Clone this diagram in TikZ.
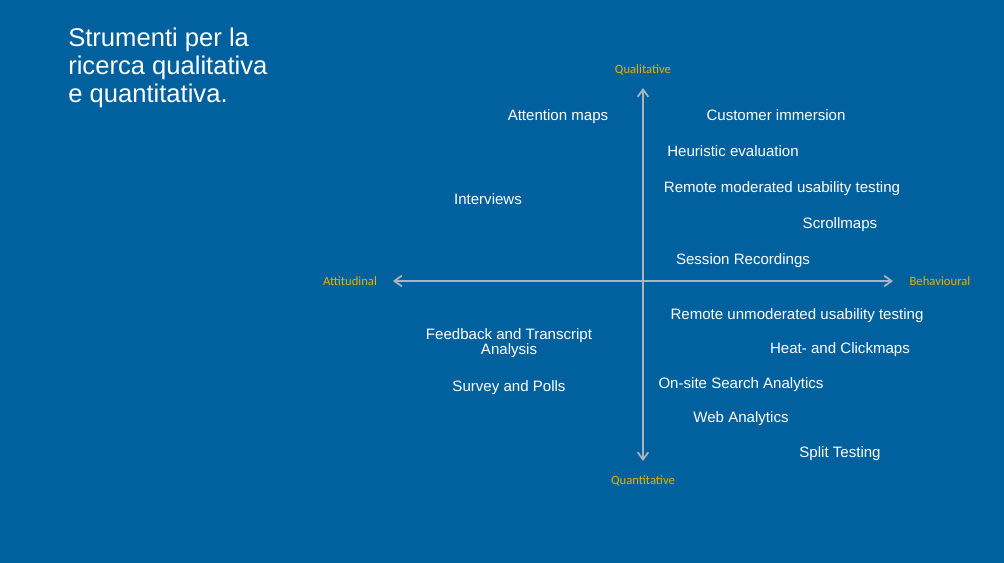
\documentclass[tikz,border=0pt]{standalone}
\usepackage{fontspec}
\setmainfont{Liberation Sans}
\newfontfamily\axisfont{Carlito}
\usepackage{xcolor}
\usetikzlibrary{arrows.meta}
\definecolor{slideblue}{RGB}{0,97,158}
\definecolor{axisgray}{RGB}{172,180,190}
\definecolor{axisgold}{RGB}{232,178,0}
\tikzstyle{tool}=[
        text = white,
        font = \fontsize{11.3}{11.5}\selectfont,
        inner sep = 0pt,
        align = center,
        anchor = base
    ]
\tikzstyle{axis label}=[
    text = axisgold,
    font = \axisfont\fontsize{9.5}{10}\selectfont,
    inner sep = 0pt
]

\begin{document}
\begin{tikzpicture}[x=0.75pt, y=-0.75pt, axis/.style = {draw=axisgray, line width=1.3pt, {Straight Barb[length=5.5pt,width=8pt]}-{Straight Barb[length=5.5pt,width=8pt]}}]
        \fill[slideblue] (0,0) rectangle (1004,563);
        \useasboundingbox (0,0) rectangle (1004,563);

        \node[text=white, font=\fontsize{19.2}{21}\selectfont, align=left, anchor=north west, inner sep=0pt] (title) at (68,28) {Strumenti per la\\ricerca qualitativa\\e quantitativa.};

        \coordinate (top) at (643,88);
        \coordinate (bottom) at (643,461);
        \coordinate (left) at (393,281);
        \coordinate (right) at (893,281);
        \draw[axis] (bottom) -- (top);
        \draw[axis] (left) -- (right);

        \node[axis label] (qual) at (643,70) {Qualitative};
        \node[axis label] (quant) at (643,481) {Quantitative};
        \node[axis label] (att) at (350,281) {Attitudinal};
        \node[axis label] (beh) at (940,281) {Behavioural};

        \node[tool] (attention) at (558,120.5) {Attention maps};
        \node[tool] (immersion) at (776,120.5) {Customer immersion};
        \node[tool] (heuristic) at (733,156.5) {Heuristic evaluation};
        \node[tool] (moderated) at (782,192.5) {Remote moderated usability testing};
        \node[tool] (interviews) at (488,204.5) {Interviews};
        \node[tool] (scroll) at (840,228.5) {Scrollmaps};
        \node[tool] (session) at (743,264.5) {Session Recordings};
        \node[tool] (unmoderated) at (797,319.5) {Remote unmoderated usability testing};
        \node[tool, anchor=center] (feedback) at (509,343) {Feedback and Transcript\\Analysis};
        \node[tool] (heat) at (840,353.5) {Heat- and Clickmaps};
        \node[tool] (survey) at (509,391.5) {Survey and Polls};
        \node[tool] (search) at (741,388.5) {On-site Search Analytics};
        \node[tool] (web) at (741,422.5) {Web Analytics};
        \node[tool] (split) at (840,457.5) {Split Testing};

    \end{tikzpicture}
\end{document}
